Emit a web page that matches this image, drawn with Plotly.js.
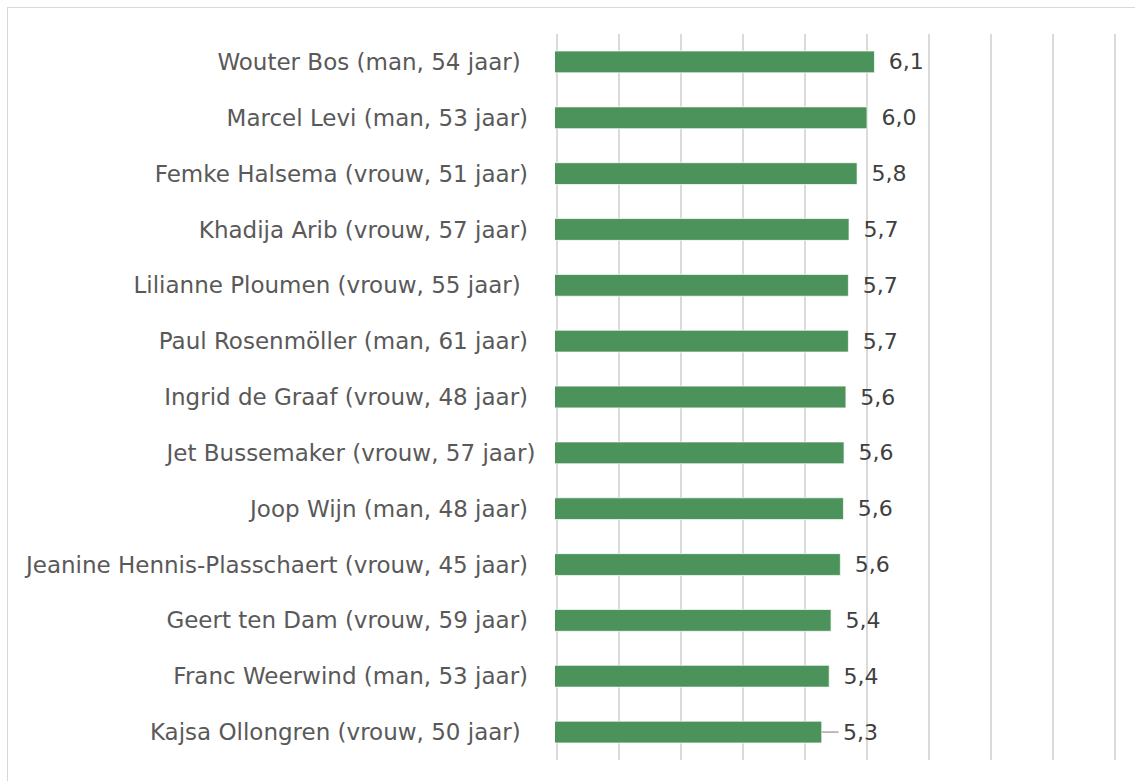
<!DOCTYPE html>
<html>
<head>
<meta charset="utf-8">
<script src="https://cdn.plot.ly/plotly-3.0.1.min.js"></script>
<style>
  html, body { margin: 0; padding: 0; background: #ffffff; }
  #wrap { position: relative; width: 1135px; height: 781px; overflow: hidden; }
  #chart { position: absolute; left: 0; top: 0; width: 1135px; height: 781px; }
  #frame { position: absolute; left: 7px; top: 7px; width: 1140px; height: 790px;
           border: 1px solid #d9d9d9; pointer-events: none; box-sizing: border-box; }
</style>
</head>
<body>
<div id="wrap">
  <div id="chart"></div>
  <div id="frame"></div>
</div>
<script>
// Names as written in the chart (trailing spaces as in the original labels)
const names = [
  "Wouter Bos (man, 54 jaar)\u00a0\u00a0",
  "Marcel Levi (man, 53 jaar)\u00a0",
  "Femke Halsema (vrouw, 51 jaar)\u00a0",
  "Khadija Arib (vrouw, 57 jaar)\u00a0",
  "Lilianne Ploumen (vrouw, 55 jaar)\u00a0\u00a0",
  "Paul Rosenmöller (man, 61 jaar)\u00a0",
  "Ingrid de Graaf (vrouw, 48 jaar)\u00a0",
  "Jet Bussemaker (vrouw, 57 jaar)",
  "Joop Wijn (man, 48 jaar)\u00a0",
  "Jeanine Hennis-Plasschaert (vrouw, 45 jaar)\u00a0",
  "Geert ten Dam (vrouw, 59 jaar)\u00a0",
  "Franc Weerwind (man, 53 jaar)\u00a0",
  "Kajsa Ollongren (vrouw, 50 jaar)\u00a0\u00a0"
];
// Average rating (1-10), bar lengths
const scores = [6.12, 6.00, 5.84, 5.71, 5.70, 5.70, 5.66, 5.63, 5.62, 5.57, 5.42, 5.39, 5.27];
// Value labels as printed
const scoreLabels = ["6,1", "6,0", "5,8", "5,7", "5,7", "5,7", "5,6", "5,6", "5,6", "5,6", "5,4", "5,4", "5,3"];
const axisTicks = [1, 2, 3, 4, 5, 6, 7, 8, 9, 10];

const last = scores.length - 1;
// the last label sits a little further out, joined by a leader line
const labelText = scoreLabels.map((s, i) => (i === last ? "\u00a0\u00a0\u2009" : "\u00a0\u2009") + s);

const FONT = "DejaVu Sans, Verdana, sans-serif";

const trace = {
  type: "bar",
  orientation: "h",
  y: names,
  x: scores,
  base: 0,
  text: labelText,
  textposition: "outside",
  constraintext: "none",
  cliponaxis: false,
  textfont: { family: FONT, size: 22, color: "#404040" },
  marker: { color: "#4b935b", line: { color: "rgba(255,255,255,0.7)", width: 1 } },
  hoverinfo: "skip"
};

// axis runs 1..10; a 2px pad at each end keeps the end gridlines visible
const padUnits = 2 / 62;
const layout = {
  width: 1135,
  height: 781,
  margin: { l: 555, r: 18, t: 34, b: 21, pad: 0 },
  paper_bgcolor: "rgba(0,0,0,0)",
  plot_bgcolor: "rgba(0,0,0,0)",
  showlegend: false,
  bargap: 0.61,
  font: { family: FONT, size: 23, color: "#595959" },
  xaxis: {
    range: [axisTicks[0] - padUnits, axisTicks[axisTicks.length - 1] + padUnits],
    tickvals: axisTicks,
    showticklabels: false,
    showgrid: true,
    gridcolor: "#dadada",
    gridwidth: 1.5,
    zeroline: false,
    showline: false,
    fixedrange: true
  },
  yaxis: {
    type: "category",
    categoryorder: "array",
    categoryarray: names,
    autorange: "reversed",
    showgrid: false,
    zeroline: false,
    showline: false,
    ticks: "outside",
    ticklen: 14,
    tickcolor: "rgba(0,0,0,0)",
    tickfont: { family: FONT, size: 23, color: "#595959" },
    automargin: false,
    fixedrange: true
  },
  shapes: [{
    type: "line",
    xref: "x", yref: "y",
    x0: scores[last], x1: scores[last] + 0.27,
    y0: names[last], y1: names[last],
    line: { color: "#a6a6a6", width: 1.5 }
  }]
};

Plotly.newPlot("chart", [trace], layout, { displayModeBar: false, staticPlot: true });
</script>
</body>
</html>
